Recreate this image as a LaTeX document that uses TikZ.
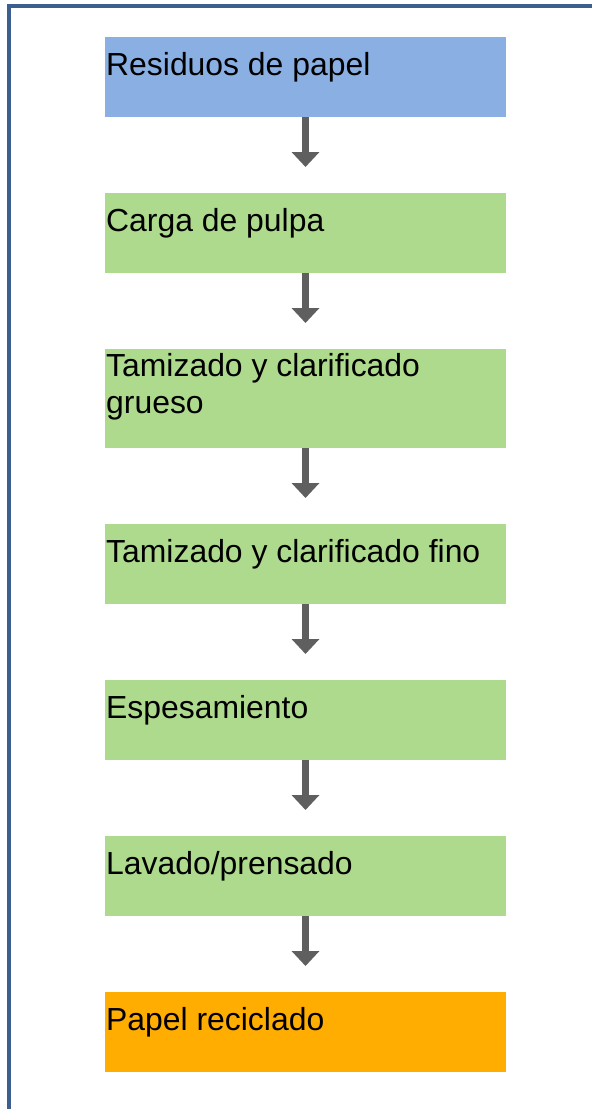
\documentclass[tikz,border=0pt]{standalone}
\usepackage{fontspec}
\setmainfont{Liberation Sans}
\usepackage{xcolor}
\definecolor{box_blue}{HTML}{8AB0E3}
\definecolor{box_green}{HTML}{ADDA8C}
\definecolor{box_orange}{HTML}{FFAD00}
\definecolor{arrow_gray}{HTML}{5F5F5F}
\definecolor{frame_blue}{HTML}{3D5F8F}
\usetikzlibrary{positioning,arrows.meta}
\tikzset{STEP/.style={rectangle,minimum width=401pt,minimum height=80pt,inner sep=0pt,outer sep=0pt,anchor=north}}
\tikzset{LABEL/.style={anchor=base west,inner sep=0pt,align=left,font=\fontsize{31.9}{36.6}\selectfont}}
\tikzset{ARROW/.style={line width=6.5pt,arrow_gray,-{Triangle[width=27pt,length=15pt]},shorten >=26pt}}
\begin{document}
\begin{tikzpicture}[x=1pt,y=-1pt]
\useasboundingbox (0,0) rectangle (592,1109);

\draw[frame_blue,line width=4pt] (9,1109) -- (9,5.5) -- (592,5.5);

\node[STEP,fill=box_blue] (n_residuos) at (305.5,37) {};
\node[STEP,fill=box_green,below=76pt of n_residuos] (n_carga) {};
\node[STEP,fill=box_green,minimum height=99pt,below=76pt of n_carga] (n_grueso) {};
\node[STEP,fill=box_green,below=76pt of n_grueso] (n_fino) {};
\node[STEP,fill=box_green,below=76pt of n_fino] (n_espesa) {};
\node[STEP,fill=box_green,below=76pt of n_espesa] (n_lavado) {};
\node[STEP,fill=box_orange,below=76pt of n_lavado] (n_reciclado) {};

\node[LABEL] (t_residuos) at ([shift={(1pt,-38pt)}]n_residuos.north west) {Residuos de papel};
\node[LABEL] (t_carga) at ([shift={(1pt,-38pt)}]n_carga.north west) {Carga de pulpa};
\node[LABEL] (t_grueso) at ([shift={(1pt,-64.5pt)}]n_grueso.north west) {Tamizado y clarificado\\grueso};
\node[LABEL] (t_fino) at ([shift={(1pt,-38pt)}]n_fino.north west) {Tamizado y clarificado fino};
\node[LABEL] (t_espesa) at ([shift={(1pt,-38pt)}]n_espesa.north west) {Espesamiento};
\node[LABEL] (t_lavado) at ([shift={(1pt,-38pt)}]n_lavado.north west) {Lavado/prensado};
\node[LABEL] (t_reciclado) at ([shift={(1pt,-38pt)}]n_reciclado.north west) {Papel reciclado};

\draw[ARROW] (n_residuos.south) -- (n_carga.north);
\draw[ARROW] (n_carga.south) -- (n_grueso.north);
\draw[ARROW] (n_grueso.south) -- (n_fino.north);
\draw[ARROW] (n_fino.south) -- (n_espesa.north);
\draw[ARROW] (n_espesa.south) -- (n_lavado.north);
\draw[ARROW] (n_lavado.south) -- (n_reciclado.north);

\end{tikzpicture}
\end{document}
